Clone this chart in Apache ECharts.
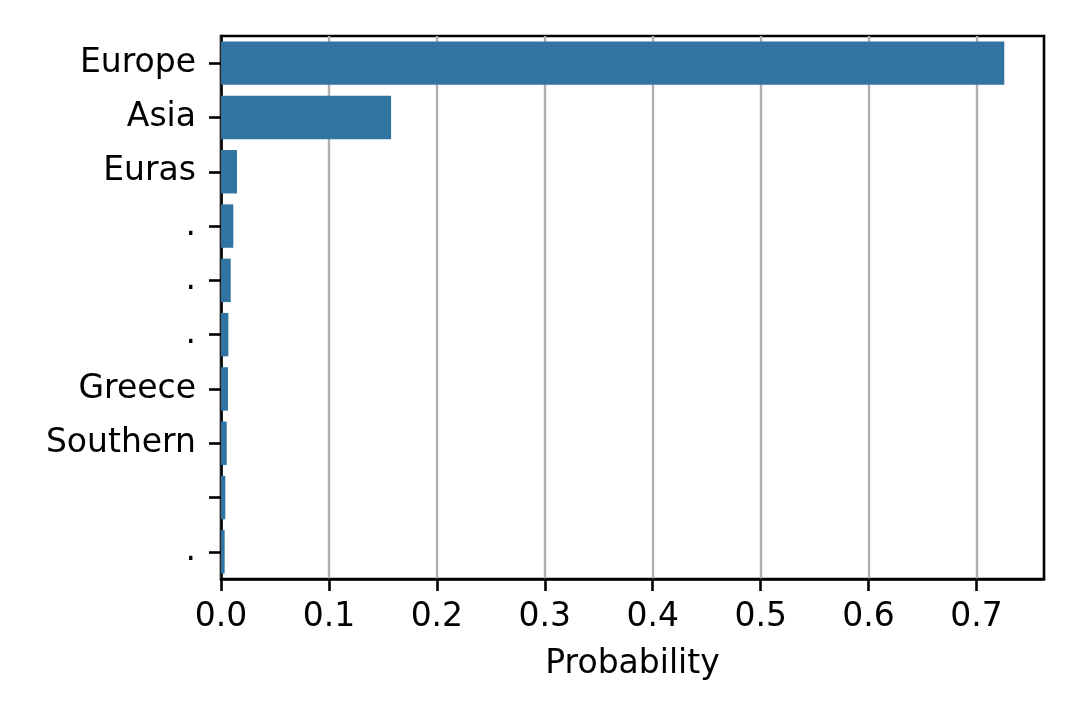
<!DOCTYPE html>
<html>
<head>
<meta charset="utf-8">
<script src="https://cdn.jsdelivr.net/npm/echarts@6/dist/echarts.min.js"></script>
<style>html,body{margin:0;padding:0;background:#fff;}#c{width:1080px;height:720px;}</style>
</head>
<body>
<div id="c"></div>
<script>
const categories = ["Europe", "Asia", "Euras", ".", ".", ".", "Greece", "Southern", "", "."];
const probabilities = [0.7257, 0.1576, 0.0148, 0.0114, 0.0090, 0.0068, 0.0065, 0.0053, 0.0040, 0.0034];
const xTicks = [0, 0.1, 0.2, 0.3, 0.4, 0.5, 0.6, 0.7];

const chart = echarts.init(document.getElementById('c'));
const font = 'DejaVu Sans';
chart.setOption({
  animation: false,
  backgroundColor: '#fff',
  grid: { left: 221, right: 36, top: 36, bottom: 141, show: true, borderColor: '#000', borderWidth: 2.6, backgroundColor: 'transparent', containLabel: false },
  xAxis: {
    type: 'value', min: 0, max: 0.7625,
    name: 'Probability', nameLocation: 'middle', nameGap: 69,
    nameTextStyle: { fontFamily: font, fontSize: 33, color: '#000' },
    axisLine: { show: true, lineStyle: { color: '#000', width: 2.6 } },
    axisTick: { show: true, length: 12, lineStyle: { color: '#000', width: 2.6 }, customValues: xTicks },
    axisLabel: { fontFamily: font, fontSize: 33, color: '#000', margin: 22, customValues: xTicks, formatter: v => v.toFixed(1) },
    splitLine: { show: true, lineStyle: { color: '#b0b0b0', width: 2.4 } }
  },
  yAxis: {
    type: 'category', data: categories, inverse: true,
    axisLine: { show: true, lineStyle: { color: '#000', width: 2.6 } },
    axisTick: { show: true, alignWithLabel: true, length: 12, lineStyle: { color: '#000', width: 2.6 } },
    axisLabel: { fontFamily: font, fontSize: 33, color: '#000', margin: 25, interval: 0, padding: [12, 0, 0, 0] },
    splitLine: { show: false }
  },
  series: [{
    type: 'bar', data: probabilities, barCategoryGap: '20%',
    itemStyle: { color: '#3274a1' }
  }]
});
</script>
</body>
</html>
